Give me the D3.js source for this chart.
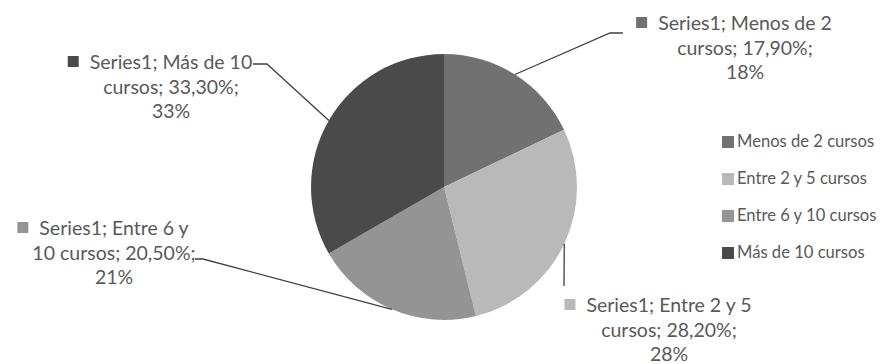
<!DOCTYPE html>
<html>
<head>
<meta charset="utf-8">
<script src="https://cdn.jsdelivr.net/npm/d3@7"></script>
<style>
  html, body { margin: 0; padding: 0; background: #fff; }
  svg { display: block; font-family: Lato, "Open Sans", sans-serif; }
</style>
</head>
<body>
<svg id="chart" width="881" height="364"></svg>
<script>
// ---- data ----
const seriesName = "Series1";
const categories = ["Menos de 2 cursos", "Entre 2 y 5 cursos", "Entre 6 y 10 cursos", "Más de 10 cursos"];
const values = [17.9, 28.2, 20.5, 33.3];
const colors = ["#717171", "#b9b9b9", "#949494", "#4a4a4a"];

// ---- layout ----
const W = 881, H = 364;
const cx = 444, cy = 187, R = 133;
const textColor = "#595959";
const labelFont = 19.5, legendFont = 16.6;
const labelLH = 24.5;
// label layout: centre x, first baseline, word breaks, leader elbow + end
const labelLayout = [
  { x: 745, y: 30,  breaks: [4, 6], pts: [[610, 33], [623, 33]] },
  { x: 669, y: 312, breaks: [5, 7], pts: [[564, 286]] },
  { x: 114, y: 235, breaks: [4, 7], pts: [[203, 259], [195, 259]] },
  { x: 171, y: 69,  breaks: [4, 6], pts: [[267, 64], [253, 64]] }
];

const svg = d3.select("#chart");
svg.append("rect").attr("width", W).attr("height", H).attr("fill", "#fff");

const pie = d3.pie().sort(null).value(d => d)(values);
const arc = d3.arc().innerRadius(0).outerRadius(R);
const edge = d3.arc().innerRadius(R).outerRadius(R);

const g = svg.append("g").attr("transform", `translate(${cx},${cy})`);
g.selectAll("path.slice").data(pie).join("path")
  .attr("class", "slice")
  .attr("d", arc)
  .attr("fill", (d, i) => colors[i]);

// leader lines
const fmtComma = v => v.toFixed(2).replace(".", ",");
pie.forEach((d, i) => {
  const c = edge.centroid(d);
  const pts = [[cx + c[0], cy + c[1]], ...labelLayout[i].pts];
  svg.append("path")
    .attr("d", d3.line()(pts))
    .attr("fill", "none")
    .attr("stroke", "#404040")
    .attr("stroke-width", 1.3);
});

// data labels
categories.forEach((cat, i) => {
  const L = labelLayout[i];
  const words = `${seriesName}; ${cat.replace(" cursos", "")} cursos; ${fmtComma(values[i])}%; ${Math.round(values[i])}%`.split(" ");
  const lines = [
    words.slice(0, L.breaks[0]).join(" "),
    words.slice(L.breaks[0], L.breaks[1]).join(" "),
    words.slice(L.breaks[1]).join(" ")
  ];
  const tg = svg.append("g");
  const texts = tg.selectAll("text").data(lines).join("text")
    .attr("x", L.x)
    .attr("y", (d, k) => L.y + k * labelLH)
    .attr("text-anchor", "middle")
    .attr("font-size", labelFont)
    .attr("fill", textColor)
    .text(d => d);
  const w0 = texts.nodes()[0].getComputedTextLength();
  tg.append("rect")
    .attr("x", L.x - w0 / 2 - 22)
    .attr("y", L.y - 13)
    .attr("width", 11).attr("height", 11)
    .attr("fill", colors[i]);
});

// legend
const leg = svg.append("g").attr("transform", "translate(722,147)");
const rows = leg.selectAll("g").data(categories).join("g")
  .attr("transform", (d, i) => `translate(0,${i * 37})`);
rows.append("rect").attr("x", 0).attr("y", -11).attr("width", 12).attr("height", 12)
  .attr("fill", (d, i) => colors[i]);
rows.append("text").attr("x", 15).attr("y", 0)
  .attr("font-size", legendFont).attr("fill", textColor).text(d => d);
</script>
</body>
</html>
